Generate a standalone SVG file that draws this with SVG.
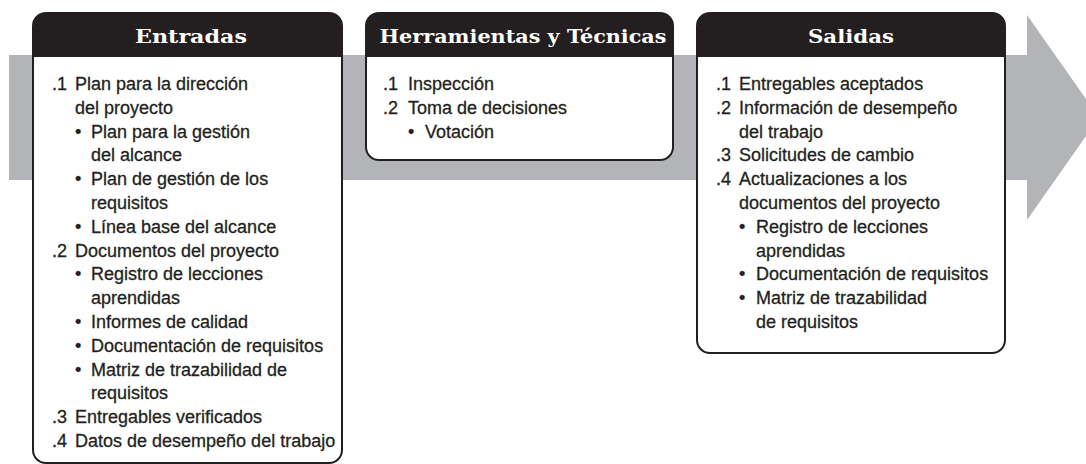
<svg xmlns="http://www.w3.org/2000/svg" width="1086" height="464" viewBox="0 0 1086 464">
<style>
.box{fill:#ffffff;stroke:#231f20;stroke-width:2}
.hdr{fill:#231f20}
.ttl{font-family:"DejaVu Serif","Liberation Serif",serif;font-weight:bold;font-size:18px;fill:#ffffff;text-anchor:middle}
.t{font-family:"Liberation Sans",Arial,sans-serif;font-size:18px;fill:#231f20;stroke:#231f20;stroke-width:0.3}
</style>
<rect width="1086" height="464" fill="#ffffff"/>
<g id="flow-arrow">
<polygon points="9,55 1027,55 1027,15 1099,117.5 1027,220 1027,180 9,180" fill="#b2b4b7"/>
</g>
<g id="entradas">
<rect class="box" x="33" y="13" width="309" height="450" rx="13"/>
<path class="hdr" d="M33,57 V26 A13,13 0 0 1 46,13 H329 A13,13 0 0 1 342,26 V57 Z"/>
<text class="ttl" x="191" y="43" textLength="112" lengthAdjust="spacingAndGlyphs">Entradas</text>
<text class="t" x="52" y="90">.1</text><text class="t" x="75" y="90">Plan para la dirección</text>
<text class="t" x="75" y="113.8">del proyecto</text>
<text class="t" x="75" y="137.6">•</text><text class="t" x="91" y="137.6">Plan para la gestión</text>
<text class="t" x="91" y="161.4">del alcance</text>
<text class="t" x="75" y="185.2">•</text><text class="t" x="91" y="185.2">Plan de gestión de los</text>
<text class="t" x="91" y="209">requisitos</text>
<text class="t" x="75" y="232.8">•</text><text class="t" x="91" y="232.8">Línea base del alcance</text>
<text class="t" x="52" y="256.6">.2</text><text class="t" x="75" y="256.6">Documentos del proyecto</text>
<text class="t" x="75" y="280.4">•</text><text class="t" x="91" y="280.4">Registro de lecciones</text>
<text class="t" x="91" y="304.2">aprendidas</text>
<text class="t" x="75" y="328">•</text><text class="t" x="91" y="328">Informes de calidad</text>
<text class="t" x="75" y="351.8">•</text><text class="t" x="91" y="351.8">Documentación de requisitos</text>
<text class="t" x="75" y="375.6">•</text><text class="t" x="91" y="375.6">Matriz de trazabilidad de</text>
<text class="t" x="91" y="399.4">requisitos</text>
<text class="t" x="52" y="423.2">.3</text><text class="t" x="75" y="423.2">Entregables verificados</text>
<text class="t" x="52" y="447">.4</text><text class="t" x="75" y="447">Datos de desempeño del trabajo</text>
</g>
<g id="herramientas">
<rect class="box" x="366" y="13" width="307" height="147" rx="13"/>
<path class="hdr" d="M366,57 V26 A13,13 0 0 1 379,13 H660 A13,13 0 0 1 673,26 V57 Z"/>
<text class="ttl" x="523" y="43" textLength="287" lengthAdjust="spacingAndGlyphs">Herramientas y Técnicas</text>
<text class="t" x="383" y="90">.1</text><text class="t" x="408" y="90">Inspección</text>
<text class="t" x="383" y="113.8">.2</text><text class="t" x="408" y="113.8">Toma de decisiones</text>
<text class="t" x="408" y="137.6">•</text><text class="t" x="425" y="137.6">Votación</text>
</g>
<g id="salidas">
<rect class="box" x="697" y="13" width="308" height="340" rx="13"/>
<path class="hdr" d="M697,57 V26 A13,13 0 0 1 710,13 H992 A13,13 0 0 1 1005,26 V57 Z"/>
<text class="ttl" x="851" y="43" textLength="86" lengthAdjust="spacingAndGlyphs">Salidas</text>
<text class="t" x="716" y="90">.1</text><text class="t" x="739" y="90">Entregables aceptados</text>
<text class="t" x="716" y="113.8">.2</text><text class="t" x="739" y="113.8">Información de desempeño</text>
<text class="t" x="739" y="137.6">del trabajo</text>
<text class="t" x="716" y="161.4">.3</text><text class="t" x="739" y="161.4">Solicitudes de cambio</text>
<text class="t" x="716" y="185.2">.4</text><text class="t" x="739" y="185.2">Actualizaciones a los</text>
<text class="t" x="739" y="209">documentos del proyecto</text>
<text class="t" x="739" y="232.8">•</text><text class="t" x="756" y="232.8">Registro de lecciones</text>
<text class="t" x="756" y="256.6">aprendidas</text>
<text class="t" x="739" y="280.4">•</text><text class="t" x="756" y="280.4">Documentación de requisitos</text>
<text class="t" x="739" y="304.2">•</text><text class="t" x="756" y="304.2">Matriz de trazabilidad</text>
<text class="t" x="756" y="328">de requisitos</text>
</g>
</svg>
